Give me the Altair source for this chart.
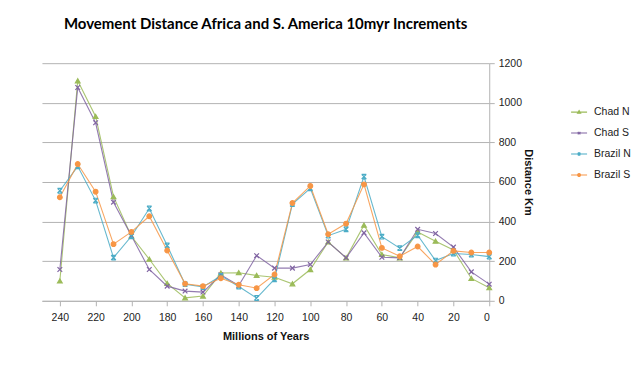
import altair as alt
import pandas as pd

years = [240, 230, 220, 210, 200, 190, 180, 170, 160, 150, 140, 130, 120,
         110, 100, 90, 80, 70, 60, 50, 40, 30, 20, 10, 0]
chad_n = [100, 1111, 931, 526, 326, 210, 88, 15, 24, 140, 142, 128, 119,
          86, 158, 297, 217, 382, 234, 217, 348, 301, 257, 113, 66]
chad_s = [158, 1077, 899, 498, 328, 158, 74, 49, 44, 131, 77, 228, 165,
          165, 183, 297, 217, 343, 220, 217, 361, 340, 271, 146, 84]
brazil_n = [556, 679, 506, 218, 326, 466, 279, 84, 70, 126, 72, 14, 109,
            489, 568, 329, 361, 627, 324, 266, 331, 203, 239, 234, 223]
brazil_s = [523, 691, 551, 286, 348, 427, 254, 86, 74, 114, 81, 64, 133,
            494, 580, 336, 390, 588, 267, 225, 274, 183, 252, 244, 244]

series_names = ["Chad N", "Chad S", "Brazil N", "Brazil S"]
series_vals = [chad_n, chad_s, brazil_n, brazil_s]
colors = ["#9BBB59", "#8064A2", "#4BACC6", "#F79646"]
shapes = [
    "triangle-up",
    "M-1,-1L1,1M1,-1L-1,1",
    "M-1,-1L1,1M1,-1L-1,1M-1,-1L1,-1M-1,1L1,1",
    "circle",
]
# legend symbols: short line with the marker in its middle
legend_shapes = [
    "M-1,0L1,0M0,-0.2L0.2,0.15L-0.2,0.15Z",
    "M-1,0L1,0M-0.16,-0.16L0.16,0.16M0.16,-0.16L-0.16,0.16",
    "M-1,0L1,0M-0.16,-0.16L0.16,0.16M0.16,-0.16L-0.16,0.16"
    "M-0.16,-0.16L0.16,-0.16M-0.16,0.16L0.16,0.16",
    "M-1,0L1,0M-0.18,0a0.18,0.18 0 1,0 0.36,0a0.18,0.18 0 1,0 -0.36,0",
]

rows = []
for name, vals in zip(series_names, series_vals):
    for y, v in zip(years, vals):
        rows.append({"Series": name, "Year": y, "Km": v})
df = pd.DataFrame(rows)

FONT = "Liberation Sans"

x = alt.X("Year:Q",
          scale=alt.Scale(domain=[0, 250], reverse=True, nice=False),
          axis=alt.Axis(title="Millions of Years", values=list(range(0, 241, 20)),
                        format="d",
                        grid=False, domain=True, domainColor="#b3b3b3",
                        tickColor="#b3b3b3", tickSize=5, labelFontSize=10.5,
                        labelColor="#222222", labelPadding=7,
                        titleFontSize=11, titleFontWeight="bold",
                        titleColor="#111111", titlePadding=7,
                        titleX=224, titleAnchor="middle"))
y = alt.Y("Km:Q",
          scale=alt.Scale(domain=[0, 1200], nice=False),
          axis=alt.Axis(title="Distance Km", orient="right",
                        values=list(range(0, 1201, 200)), format="d",
                        grid=True, gridColor="#b3b3b3", gridWidth=1,
                        domain=True, domainColor="#b3b3b3",
                        tickColor="#b3b3b3", tickSize=5, labelFontSize=10.5,
                        labelColor="#222222", labelPadding=4,
                        titleFontSize=11, titleFontWeight="bold",
                        titleColor="#111111", titlePadding=1))

color_scale = alt.Scale(domain=series_names, range=colors)
shape_scale = alt.Scale(domain=series_names, range=shapes)
legend_shape_scale = alt.Scale(domain=series_names, range=legend_shapes)

legend = alt.Legend(title=None, orient="none", legendX=529, legendY=40,
                    padding=0, labelFontSize=10.5, labelColor="#222222",
                    rowPadding=6, symbolSize=256, symbolStrokeWidth=1.1,
                    labelOffset=6)

lines = alt.Chart(df).mark_line(strokeWidth=1.1, opacity=0.85).encode(
    x=x, y=y,
    stroke=alt.Stroke("Series:N", scale=color_scale, legend=None),
    detail="Series:N",
)

points = alt.Chart(df).mark_point(filled=True, size=22, strokeWidth=1.2,
                                  opacity=1).encode(
    x=x, y=y,
    fill=alt.Fill("Series:N", scale=color_scale, legend=None),
    stroke=alt.Stroke("Series:N", scale=color_scale, legend=None),
    shape=alt.Shape("Series:N", scale=shape_scale, legend=None),
)

legend_layer = alt.Chart(df).transform_filter("datum.Km < 0").mark_point(
    filled=True, strokeWidth=1.1, opacity=1).encode(
    x=x, y=y,
    fill=alt.Fill("Series:N", scale=color_scale, legend=legend),
    stroke=alt.Stroke("Series:N", scale=color_scale, legend=legend),
    shape=alt.Shape("Series:N", scale=legend_shape_scale, legend=legend),
)

chart = alt.layer(lines, points, legend_layer).resolve_scale(
    fill="independent", stroke="independent", shape="independent"
).properties(
    width=448, height=238,
    padding={"left": 34, "top": 9, "right": 0, "bottom": 0},
    title=alt.TitleParams(
        "Movement Distance Africa and S. America 10myr Increments",
        fontSize=15, font="Lato", fontWeight="bold", frame="group",
        color="#000000", anchor="middle", offset=26),
).configure(font=FONT).configure_view(stroke=None).configure_axis(
    labelFont=FONT, titleFont=FONT
).configure_legend(labelFont=FONT)

chart.save("out.html", embed_options={"renderer": "svg", "actions": False})
